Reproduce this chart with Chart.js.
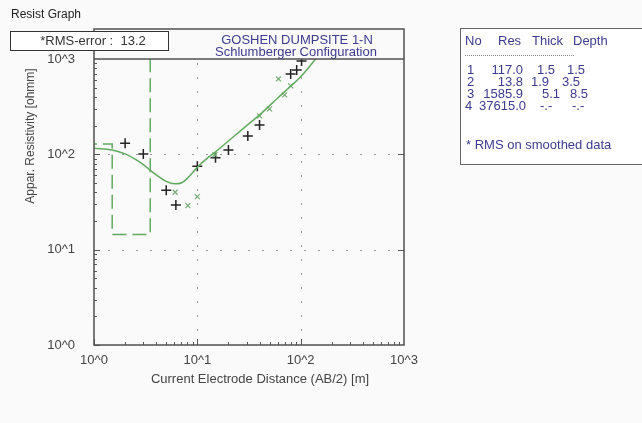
<!DOCTYPE html>
<html>
<head>
<meta charset="utf-8">
<script src="https://cdn.jsdelivr.net/npm/chart.js@4"></script>
<style>
  body { margin: 0; background: #fafafa; }
  canvas { display: block; }
</style>
</head>
<body>
<canvas id="chart" width="642" height="423"></canvas>
<script>
// smoothed model curve (AB/2 in m, apparent resistivity in ohmm)
const abCurve  = [1, 1.5, 2, 2.5, 3, 3.5, 4, 5, 6, 7, 8, 10, 12, 15, 20, 30, 40, 60, 80, 100, 150];
const rhoCurve = [116, 111, 101, 89, 78, 68, 61, 52, 49, 50, 56, 73, 88, 106, 138, 200, 259, 390, 518, 650, 1100];

// field readings (black +)
const abObs  = [2, 3, 5, 6.2, 10, 15, 20, 30.8, 40, 80, 91.5, 102];
const rhoObs = [131, 101, 42, 29.4, 75, 92, 111, 156, 203, 698, 769, 955];

// smoothed readings (green x)
const abSmooth  = [6.1, 8.1, 10, 14.8, 40, 50, 61, 70, 80];
const rhoSmooth = [40, 29, 36, 99, 253, 300, 618, 420, 522];

// layer model drawn as dashed steps
const layerRes   = [128, 14.4, 1586];
const layerDepth = [1.5, 3.5];

// table on the right
const tableHeader = ['No', 'Res', 'Thick', 'Depth'];
const tableRows = [
  ['1', '117.0', '1.5', '1.5'],
  ['2', '13.8', '1.9', '3.5'],
  ['3', '1585.9', '5.1', '8.5'],
  ['4', '37615.0', '-.-', '-.-']
];

const decades = [1, 10, 100, 1000];
const FONT = '"Liberation Sans", Arial, sans-serif';
const BLUE = '#3d3b8e';
const GREEN = 'rgb(96, 170, 96)';

const toPoints = (xs, ys) => xs.map((x, i) => ({ x: x, y: ys[i] }));

function stepPoints() {
  const pts = [{ x: 0.5, y: layerRes[0] }];
  layerDepth.forEach((d, i) => {
    pts.push({ x: d, y: layerRes[i] });
    pts.push({ x: d, y: layerRes[i + 1] });
  });
  return pts;
}

const decadeTicks = scale => { scale.ticks = decades.map(v => ({ value: v })); };

const framePlugin = {
  id: 'frame',
  beforeDatasetsDraw(chart) {
    const ctx = chart.ctx;
    const { left, right, top, bottom } = chart.chartArea;
    const xs = chart.scales.x, ys = chart.scales.y;
    ctx.save();
    // dotted grid at 10 and 100
    ctx.strokeStyle = '#9a9a9a';
    ctx.lineWidth = 1;
    ctx.setLineDash([2, 12]);
    [10, 100].forEach(v => {
      const px = Math.round(xs.getPixelForValue(v)) + 0.5;
      ctx.beginPath(); ctx.moveTo(px, bottom); ctx.lineTo(px, top); ctx.stroke();
      const py = Math.round(ys.getPixelForValue(v)) + 0.5;
      ctx.beginPath(); ctx.moveTo(left, py); ctx.lineTo(right, py); ctx.stroke();
    });
    ctx.restore();
  },
  afterDraw(chart) {
    const ctx = chart.ctx;
    const { left, right, top, bottom } = chart.chartArea;
    const xs = chart.scales.x, ys = chart.scales.y;
    ctx.save();
    ctx.strokeStyle = '#555';
    ctx.lineWidth = 1;
    // minor / major ticks
    for (let k = 0; k < 3; k++) {
      for (let m = 1; m <= 9; m++) {
        const v = m * Math.pow(10, k);
        const len = m === 1 ? 6 : 3;
        const px = Math.round(xs.getPixelForValue(v)) + 0.5;
        ctx.beginPath(); ctx.moveTo(px, bottom); ctx.lineTo(px, bottom - len); ctx.stroke();
        const py = Math.round(ys.getPixelForValue(v)) + 0.5;
        ctx.beginPath(); ctx.moveTo(left, py); ctx.lineTo(left + len, py); ctx.stroke();
      }
    }
    [10, 100].forEach(v => {
      const py = Math.round(ys.getPixelForValue(v)) + 0.5;
      ctx.beginPath(); ctx.moveTo(right, py); ctx.lineTo(right - 6, py); ctx.stroke();
    });

    // frame with header box
    ctx.strokeStyle = '#505050';
    ctx.lineWidth = 1.5;
    ctx.strokeRect(left, 29, right - left, bottom - 29);
    ctx.beginPath(); ctx.moveTo(left, top); ctx.lineTo(right, top); ctx.stroke();

    // header text
    ctx.fillStyle = BLUE;
    ctx.font = '13px ' + FONT;
    ctx.textAlign = 'center';
    ctx.textBaseline = 'middle';
    ctx.fillText('GOSHEN DUMPSITE 1-N', 297, 40);
    ctx.fillText('Schlumberger Configuration', 296, 52);

    // RMS box
    ctx.fillStyle = '#ffffff';
    ctx.fillRect(10, 31, 158, 19);
    ctx.strokeStyle = '#333';
    ctx.lineWidth = 1;
    ctx.strokeRect(10.5, 31.5, 158, 19);
    ctx.fillStyle = '#333';
    ctx.fillText('*RMS-error :  13.2', 93, 41);

    // window caption
    ctx.font = '12px ' + FONT;
    ctx.textAlign = 'left';
    ctx.fillStyle = '#222';
    ctx.fillText('Resist Graph', 11, 15);

    // axis titles
    ctx.fillStyle = '#444';
    ctx.textAlign = 'center';
    ctx.save();
    ctx.translate(31, 136);
    ctx.rotate(-Math.PI / 2);
    ctx.fillText('Appar. Resistivity [ohmm]', 0, 0);
    ctx.restore();
    ctx.font = '13px ' + FONT;
    ctx.fillText('Current Electrode Distance (AB/2) [m]', 260, 379);

    // layer table
    ctx.fillStyle = '#ffffff';
    ctx.fillRect(460, 28, 190, 136);
    ctx.strokeStyle = '#666';
    ctx.strokeRect(460.5, 28.5, 190, 136);
    ctx.fillStyle = BLUE;
    ctx.textAlign = 'left';
    const hx = [465, 498, 532, 573];
    tableHeader.forEach((h, i) => ctx.fillText(h, hx[i], 41));
    ctx.strokeStyle = '#888';
    ctx.setLineDash([1, 1]);
    ctx.beginPath(); ctx.moveTo(465, 55.5); ctx.lineTo(575, 55.5); ctx.stroke();
    ctx.setLineDash([]);
    // cell anchors: [no left, res right, thick left, depth left]
    const cellX = [
      [467, 523, 537, 567],
      [467, 523, 531, 562],
      [467, 523, 542, 570],
      [465, 526, 540, 572]
    ];
    tableRows.forEach((row, r) => {
      const y = 70 + r * 12.2;
      const cx = cellX[r];
      ctx.textAlign = 'left';
      ctx.fillText(row[0], cx[0], y);
      ctx.textAlign = 'right';
      ctx.fillText(row[1], cx[1], y);
      ctx.textAlign = 'left';
      ctx.fillText(row[2], cx[2], y);
      ctx.fillText(row[3], cx[3], y);
    });
    ctx.fillText('* RMS on smoothed data', 466, 145);
    ctx.restore();
  }
};

new Chart(document.getElementById('chart'), {
  type: 'scatter',
  data: {
    datasets: [
      {
        label: 'model',
        data: stepPoints(),
        showLine: true,
        borderColor: GREEN,
        borderWidth: 1.5,
        borderDash: [14, 6],
        pointRadius: 0
      },
      {
        label: 'calculated',
        data: toPoints(abCurve, rhoCurve),
        showLine: true,
        borderColor: GREEN,
        borderWidth: 1.5,
        cubicInterpolationMode: 'monotone',
        pointRadius: 0
      },
      {
        label: 'smoothed',
        data: toPoints(abSmooth, rhoSmooth),
        pointStyle: 'crossRot',
        pointRadius: 3.5,
        borderColor: 'rgb(115, 170, 115)',
        borderWidth: 1.2,
        backgroundColor: 'transparent'
      },
      {
        label: 'observed',
        data: toPoints(abObs, rhoObs),
        pointStyle: 'cross',
        pointRadius: 5,
        borderColor: '#222',
        borderWidth: 1.5,
        backgroundColor: 'transparent'
      }
    ]
  },
  options: {
    responsive: false,
    animation: false,
    layout: { padding: { left: 0, top: 59, right: 238, bottom: 0 } },
    plugins: {
      legend: { display: false },
      tooltip: { enabled: false }
    },
    scales: {
      x: {
        type: 'logarithmic',
        min: 1,
        max: 1000,
        afterBuildTicks: decadeTicks,
        afterFit: scale => { scale.height = 78; },
        grid: { display: false, drawTicks: false },
        border: { display: false },
        ticks: {
          padding: 8,
          color: '#444',
          font: { family: FONT, size: 13 },
          maxRotation: 0,
          callback: v => '10^' + Math.round(Math.log10(v))
        }
      },
      y: {
        type: 'logarithmic',
        min: 1,
        max: 1000,
        afterBuildTicks: decadeTicks,
        afterFit: scale => { scale.width = 94; },
        grid: { display: false, drawTicks: false },
        border: { display: false },
        ticks: {
          padding: 19,
          color: '#444',
          font: { family: FONT, size: 13 },
          callback: v => '10^' + Math.round(Math.log10(v))
        }
      }
    }
  },
  plugins: [framePlugin]
});
</script>
</body>
</html>
